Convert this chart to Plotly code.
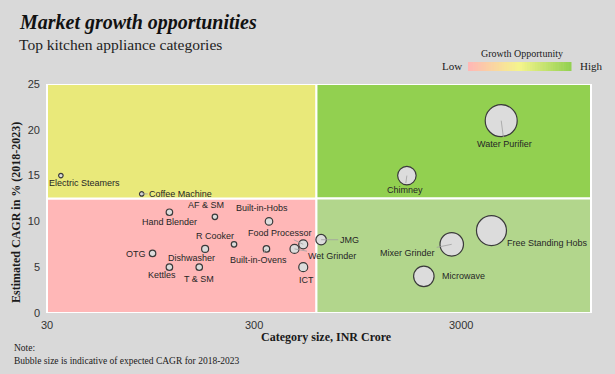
import math
import plotly.graph_objects as go

# ---------------- data ----------------
categories = ["Electric Steamers", "Coffee Machine", "Hand Blender", "AF & SM", "Built-in-Hobs",
              "R Cooker", "Dishwasher", "OTG", "Kettles", "T & SM", "Built-in-Ovens",
              "Food Processor", "Wet Grinder", "ICT", "JMG", "Mixer Grinder",
              "Free Standing Hobs", "Microwave", "Water Purifier", "Chimney"]
category_size = [35, 86, 117, 194, 354, 240, 174, 97, 117, 163, 344,
                 518, 470, 518, 632, 2700, 4200, 1980, 4680, 1640]
cagr = [15, 13, 11, 10.5, 10, 7.5, 7, 6.5, 5, 5, 7,
        7.5, 7, 5, 8, 7.5, 9, 4, 21, 15]
bubble_size = [4.5, 4.5, 6.5, 5.5, 7.5, 5.5, 7, 6.5, 6.5, 6.5, 6.5,
               9, 9, 9, 10.5, 23.5, 30, 20.5, 32, 18.5]
x_tick_vals = [30, 300, 3000]
x_tick_text = ["30", "300", "3000"]
y_tick_vals = [0, 5, 10, 15, 20, 25]
x_split = 600
y_split = 12.5

# ---------------- style / layout ----------------
W, H = 615, 374
ML, MR, MT, MB = 47, 24, 84, 61
x_lo, x_hi = 30, 12700
lx0, lx1 = math.log10(x_lo), math.log10(x_hi)
PW, PH = W - ML - MR, H - MT - MB

def xfrac(v):
    return (math.log10(v) - lx0) / (lx1 - lx0)

def px2paper(px, py):
    return (px - ML) / PW, (H - MB - py) / PH

# label offsets in pixels (dx, dy, show leader line)
label_offsets = {
    "Electric Steamers": (24, 7, False),
    "Coffee Machine": (39, 0, True),
    "Hand Blender": (0, 10, False),
    "AF & SM": (-9, -12, False),
    "Built-in-Hobs": (-7, -13, False),
    "R Cooker": (-19, -8, False),
    "Dishwasher": (-14, 9, False),
    "OTG": (-17, 1, False),
    "Kettles": (-7, 8, False),
    "T & SM": (0, 12, False),
    "Built-in-Ovens": (-8, 11, True),
    "Food Processor": (-23, -11, True),
    "Wet Grinder": (38, 7, True),
    "ICT": (3, 13, False),
    "JMG": (28, 0, True),
    "Mixer Grinder": (-44, 9, True),
    "Free Standing Hobs": (56, 12, False),
    "Microwave": (40, 0, False),
    "Water Purifier": (3, 23, True),
    "Chimney": (-2, 14, True),
}

BG = "#d9d9d9"
SERIF = "Liberation Serif, Times New Roman, serif"
SANS = "Liberation Sans, Arial, sans-serif"

fig = go.Figure()
fig.add_trace(go.Scatter(
    x=category_size, y=cagr, mode="markers",
    marker=dict(size=bubble_size, sizemode="diameter", sizeref=1, opacity=1,
                color="#dcdcdc", line=dict(color="#3a3a3a", width=1.2)),
    text=categories, hoverinfo="text", showlegend=False,
))

shapes = []
xs = xfrac(x_split)
quads = [
    (0, xs, 0, y_split, "#ffb7b7"),
    (0, xs, y_split, 25, "#e9e97a"),
    (xs, 1, y_split, 25, "#92d050"),
    (xs, 1, 0, y_split, "#b2d68c"),
]
for x0, x1, y0, y1, c in quads:
    shapes.append(dict(type="rect", xref="paper", yref="y", x0=x0, x1=x1, y0=y0, y1=y1,
                       fillcolor=c, line=dict(color="white", width=2), layer="below"))

# legend gradient bar
stops = [(0.0, (255, 182, 182)), (0.5, (245, 245, 140)), (1.0, (146, 208, 80))]
def grad(t):
    for (t0, c0), (t1, c1) in zip(stops[:-1], stops[1:]):
        if t <= t1:
            f = (t - t0) / (t1 - t0)
            return "rgb(%d,%d,%d)" % tuple(round(a + (b - a) * f) for a, b in zip(c0, c1))
    return "rgb(%d,%d,%d)" % stops[-1][1]
bx0, bx1, by0, by1 = 468, 571, 62, 71
n = 40
for i in range(n):
    a0, b0 = px2paper(bx0 + (bx1 - bx0) * i / n, by1)
    a1, b1 = px2paper(bx0 + (bx1 - bx0) * (i + 1) / n + 0.5, by0)
    shapes.append(dict(type="rect", xref="paper", yref="paper", x0=a0, x1=a1, y0=b0, y1=b1,
                       fillcolor=grad((i + 0.5) / n), line=dict(width=0)))

annotations = []
for name, xv, yv in zip(categories, category_size, cagr):
    dx, dy, line = label_offsets[name]
    annotations.append(dict(
        x=math.log10(xv), y=yv, xref="x", yref="y", text=name,
        showarrow=True, ax=dx, ay=dy, arrowhead=0, arrowwidth=0.8, standoff=0,
        arrowcolor="#a0a0a0" if line else "rgba(0,0,0,0)",
        font=dict(family=SANS, size=9, color="#262626"),
    ))

def paper_text(text, px, py, size, family=SERIF, xanchor="center", angle=0, color="#1a1a1a"):
    fx, fy = px2paper(px, py)
    annotations.append(dict(x=fx, y=fy, xref="paper", yref="paper", text=text, showarrow=False,
                            xanchor=xanchor, yanchor="middle", textangle=angle,
                            font=dict(family=family, size=size, color=color)))

paper_text("<b><i>Market growth opportunities</i></b>", 17, 22, 20, xanchor="left", color="#111")
paper_text("Top kitchen appliance categories", 17, 44, 15.5, xanchor="left", color="#222")
paper_text("Growth Opportunity", 522, 54, 10)
paper_text("Low", 452, 66, 11)
paper_text("High", 591, 66, 11)
paper_text("<b>Category size, INR Crore</b>", 326, 337, 12)
paper_text("<b>Estimated CAGR in % (2018-2023)</b>", 16, 213, 12, angle=-90)
paper_text("Note:", 12, 348, 9.5, xanchor="left")
paper_text("Bubble size is indicative of expected CAGR for 2018-2023", 12, 361, 9.5, xanchor="left")

fig.update_layout(
    width=W, height=H,
    margin=dict(l=ML, r=MR, t=MT, b=MB, pad=0),
    paper_bgcolor=BG, plot_bgcolor=BG,
    shapes=shapes, annotations=annotations,
    xaxis=dict(type="log", range=[lx0, lx1], tickvals=x_tick_vals, ticktext=x_tick_text,
               showgrid=False, zeroline=False, showline=False, ticks="",
               ticklabelstandoff=4,
               tickfont=dict(family=SANS, size=11, color="#333")),
    yaxis=dict(range=[0, 25], tickvals=y_tick_vals, showgrid=False, zeroline=False,
               showline=False, ticks="", ticklabelstandoff=6,
               tickfont=dict(family=SANS, size=11, color="#333")),
)

fig.write_html("out.html", config={"displayModeBar": False},
               post_script="document.body.style.margin='0';")
